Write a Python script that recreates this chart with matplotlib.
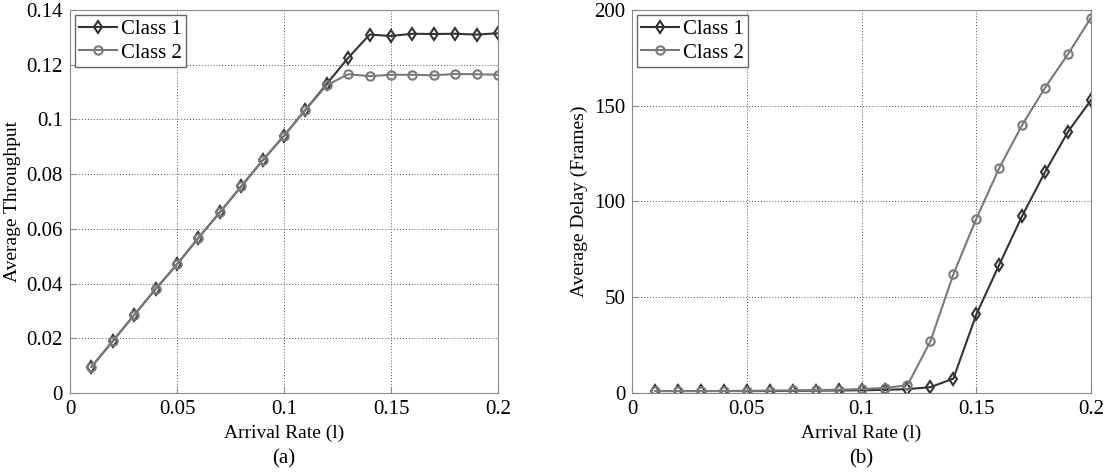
import matplotlib
matplotlib.use('Agg')
import matplotlib.pyplot as plt

plt.rcParams['font.family'] = ['Liberation Serif', 'DejaVu Serif']
plt.rcParams['font.size'] = 14

rate = [0.01, 0.02, 0.03, 0.04, 0.05, 0.06, 0.07, 0.08, 0.09, 0.10,
        0.11, 0.12, 0.13, 0.14, 0.15, 0.16, 0.17, 0.18, 0.19, 0.20]

thr_c1 = [0.0095, 0.019, 0.0285, 0.038, 0.047, 0.0567, 0.066, 0.0755, 0.085, 0.094,
          0.1035, 0.113, 0.1225, 0.131, 0.1305, 0.1313, 0.1312, 0.1313, 0.131, 0.1315]
thr_c2 = [0.0095, 0.019, 0.0285, 0.038, 0.047, 0.0567, 0.066, 0.0755, 0.085, 0.094,
          0.1035, 0.1125, 0.1165, 0.1158, 0.1163, 0.1163, 0.1161, 0.1166, 0.1165, 0.1163]

delay_c1 = [1.0, 1.0, 1.0, 1.0, 1.0, 1.0, 1.1, 1.2, 1.3, 1.4,
            1.6, 2.0, 3.0, 7.5, 41, 67, 92.5, 115.5, 136.5, 153]
delay_c2 = [1.0, 1.0, 1.0, 1.0, 1.1, 1.2, 1.3, 1.5, 1.7, 2.0,
            2.6, 4.0, 27, 62, 91, 117.5, 140, 159.5, 177, 196]

c1_col = '#333333'
c2_col = '#7a7a7a'

fig = plt.figure(figsize=(11.06, 4.74), dpi=100)
ax1 = fig.add_axes([0.0633, 0.171, 0.387, 0.808])
ax2 = fig.add_axes([0.5715, 0.171, 0.415, 0.808])


def style(ax):
    for s in ax.spines.values():
        s.set_color('#888888')
    ax.grid(True, linestyle=(0, (1, 2)), color='#555555', linewidth=0.7)
    ax.tick_params(direction='in', length=4, color='#888888', labelsize=15, pad=5)
    ax.set_xlim(0, 0.2)
    ax.set_xticks([0, 0.05, 0.1, 0.15, 0.2])
    ax.set_xticklabels(['0', '0.05', '0.1', '0.15', '0.2'])
    ax.set_xlabel('Arrival Rate (l)', fontsize=14, labelpad=4)


mk = dict(mfc='none', ms=6, mew=1.5, lw=1.5)
ax1.plot(rate, thr_c1, color=c1_col, marker='d', label='Class 1', **mk)
ax1.plot(rate, thr_c2, color=c2_col, marker='o', label='Class 2', **mk)
style(ax1)
ax1.set_ylim(0, 0.14)
ax1.set_yticks([0, 0.02, 0.04, 0.06, 0.08, 0.1, 0.12, 0.14])
ax1.set_yticklabels(['0', '0.02', '0.04', '0.06', '0.08', '0.1', '0.12', '0.14'])
ax1.set_ylabel('Average Throughput', fontsize=14)

ax2.plot(rate, delay_c1, color=c1_col, marker='d', label='Class 1', **mk)
ax2.plot(rate, delay_c2, color=c2_col, marker='o', label='Class 2', **mk)
style(ax2)
ax2.set_ylim(0, 200)
ax2.set_yticks([0, 50, 100, 150, 200])
ax2.set_ylabel('Average Delay (Frames)', fontsize=14)

for ax in (ax1, ax2):
    leg = ax.legend(loc='upper left', fontsize=15, fancybox=False, framealpha=1,
                    borderaxespad=0.25, handlelength=1.8, handletextpad=0.2,
                    borderpad=0.2, labelspacing=0.2)
    leg.get_frame().set_edgecolor('#666666')
    leg.get_frame().set_linewidth(1.0)

fig.text(0.2567, 0.022, '(a)', ha='center', fontsize=15)
fig.text(0.779, 0.022, '(b)', ha='center', fontsize=15)

fig.savefig('out.png', dpi=100)
